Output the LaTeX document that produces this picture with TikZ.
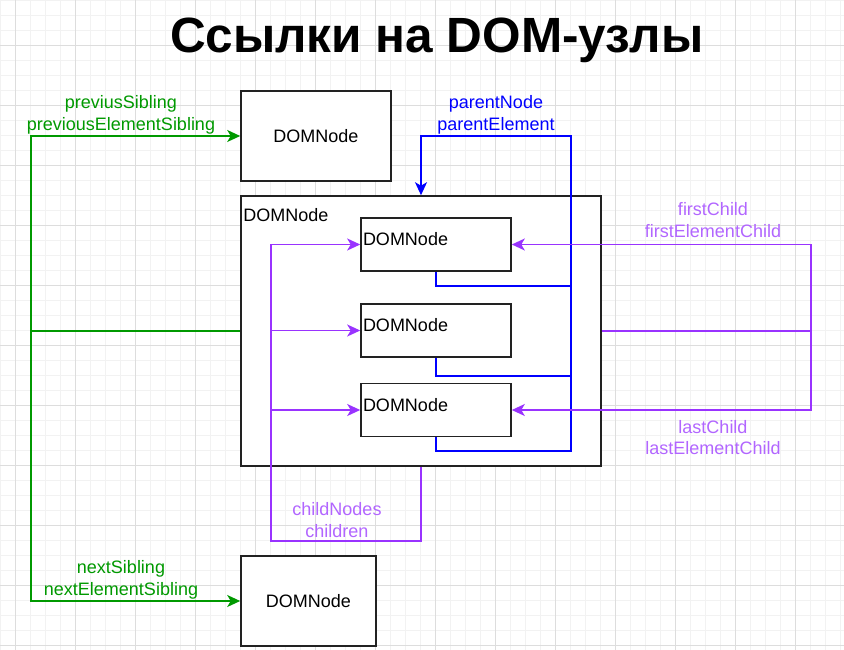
\documentclass[tikz,border=0pt]{standalone}
\usepackage{fontspec}
\setmainfont{Liberation Sans}
\usetikzlibrary{arrows.meta,calc}
\definecolor{gridminor}{HTML}{F2F2F2}
\definecolor{gridmajor}{HTML}{DDDDDD}
\definecolor{boxline}{HTML}{222222}
\definecolor{grn}{HTML}{009900}
\definecolor{blu}{HTML}{0000FF}
\definecolor{pline}{HTML}{9933FF}
\definecolor{ptext}{HTML}{B266FF}
\tikzset{
  domnode/.style={draw=boxline,line width=1.6pt,fill=white,inner sep=0pt,font=\fontsize{18}{21}\selectfont},
  childbox/.style={domnode,minimum width=150pt,text width=146pt,align=left,text height=13pt,text depth=11pt},
  conn/.style={line width=1.7pt},
  tip/.style={-{Stealth[length=13pt,width=12pt,inset=3.5pt]}},
  lbl/.style={align=center,inner sep=0pt,font=\fontsize{18}{21.5}\selectfont},
}
\begin{document}
\begin{tikzpicture}[x=1pt,y=-1pt]
\useasboundingbox (0,0) rectangle (844,650);
\fill[white] (0,0) rectangle (844,650);
% grid
\foreach \x in {0,15,...,840} \draw[gridminor,line width=0.8pt] (\x,0) -- (\x,650);
\foreach \y in {0,15,...,645} \draw[gridminor,line width=0.8pt] (0,\y) -- (844,\y);
\foreach \x in {15,75,...,840} \draw[gridmajor,line width=0.9pt] (\x,0) -- (\x,650);
\foreach \y in {45,105,...,645} \draw[gridmajor,line width=0.9pt] (0,\y) -- (844,\y);

% title
\node[inner sep=0pt,font=\fontsize{49.5}{56}\selectfont\bfseries] (title) at (437,40) {Ссылки на DOM-узлы};

% boxes
\node[domnode,minimum width=150pt,minimum height=90pt] (top) at (316,136) {DOMNode};
\node[domnode,minimum width=360pt,minimum height=270pt] (big) at (421,331) {};
\node[anchor=north west,inner sep=0pt,font=\fontsize{18}{21}\selectfont] (bigl) at ($(big.north west)+(3,13)$) {DOMNode};
\node[childbox,minimum height=53pt] (c1) at (436,244.5) {DOMNode};
\node[childbox,minimum height=53pt] (c2) at (436,330.5) {DOMNode};
\node[childbox,minimum height=53pt] (c3) at (436,410) {DOMNode};
\node[domnode,minimum width=135pt,minimum height=90pt] (bot) at (308.5,601) {DOMNode};

% green sibling links
\coordinate (gl) at (31,331);
\draw[conn,grn] (big.west) -- (gl);
\draw[conn,grn,tip] (gl) |- (top.west);
\draw[conn,grn,tip] (gl) |- (bot.west);
\node[lbl,text=grn] (prevl) at (121,115) {previusSibling\\previousElementSibling};
\node[lbl,text=grn] (nextl) at (121,580) {nextSibling\\nextElementSibling};

% blue parent links
\coordinate (pb) at (571,451);
\coordinate (pt) at (571,136);
\draw[conn,blu] (c1.south) |- (571,286);
\draw[conn,blu] (c2.south) |- (571,376);
\draw[conn,blu,tip] (c3.south) |- (pb) -- (pt) -| (big.north);
\node[lbl,text=blu] (parl) at (496,115) {parentNode\\parentElement};

% purple childNodes
\coordinate (cn) at (271,541);
\draw[conn,pline,tip] (big.south) |- (cn) |- (c1.west);
\draw[conn,pline,tip] (c2.west -| cn) -- (c2.west);
\draw[conn,pline,tip] (c3.west -| cn) -- (c3.west);
\node[lbl,text=ptext] (chl) at (337,520) {childNodes\\children};

% purple first/last child
\coordinate (fr) at (811,331);
\draw[conn,pline] (big.east) -- (fr);
\draw[conn,pline,tip] (fr) |- (c1.east);
\draw[conn,pline,tip] (fr) |- (c3.east);
\node[lbl,text=ptext] (firstl) at (713,220) {firstChild\\firstElementChild};
\node[lbl,text=ptext] (lastl) at (713,437.5) {lastChild\\lastElementChild};
\end{tikzpicture}
\end{document}
